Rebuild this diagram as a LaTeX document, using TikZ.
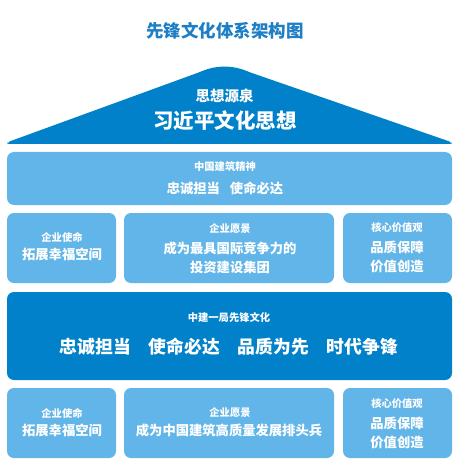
\documentclass[tikz,border=0pt]{standalone}
\usepackage{fontspec}
\setmainfont{Noto Sans CJK SC}
\definecolor{darkb}{HTML}{0081CA}
\definecolor{lightb}{HTML}{62B5E8}
\definecolor{titleb}{HTML}{1D7EC5}
\begin{document}
\begin{tikzpicture}[x=1pt,y=-1pt,
  lbox/.style={fill=lightb,rounded corners=7pt},
  dbox/.style={fill=darkb,rounded corners=7pt},
  wt/.style={text=white,font=\bfseries,inner sep=0pt,align=center},
  fs/.style={font=\fontsize{#1}{#1}\selectfont\bfseries}]
\useasboundingbox (0,0) rectangle (463,473);
% title
\node[inner sep=0pt,text=titleb,fs=17.5] (title) at (225,31) {先锋文化体系架构图};
% roof
\fill[darkb,rounded corners=2pt] (7,144) -- (8,142) -- (200,72)
  .. controls (216,65) and (233,65) .. (249,72) -- (451,142) -- (452,144) -- cycle;
\node[wt,fs=14.5] (sx) at (224.5,96) {思想源泉};
\node[wt,fs=20.5] (xjp) at (225,121) {习近平文化思想};
% row 1
\path[lbox] (7,152) rectangle (452,205);
\node[wt,fs=10.3] (r1a) at (225,167) {中国建筑精神};
\node[wt,fs=13.3] (r1b) at (225,188) {忠诚担当\hspace{0.75em}使命必达};
% row 2
\path[lbox] (7,213) rectangle (116,283);
\path[lbox] (124,213) rectangle (334,283);
\path[lbox] (343,213) rectangle (452,283);
\node[wt,fs=10.3] (l2a) at (62,237) {企业使命};
\node[wt,fs=13.3] (l2b) at (62,254) {拓展幸福空间};
\node[wt,fs=10.3] (m2a) at (230,229) {企业愿景};
\node[wt,fs=13.3] (m2b) at (230,248) {成为最具国际竞争力的};
\node[wt,fs=13.3] (m2c) at (230,267) {投资建设集团};
\node[wt,fs=10.3] (r2a) at (397,228) {核心价值观};
\node[wt,fs=13.3] (r2b) at (397,247) {品质保障};
\node[wt,fs=13.3] (r2c) at (397,266) {价值创造};
% row 3
\path[dbox] (7,292) rectangle (452,380);
\node[wt,fs=10.3] (r3a) at (229,318) {中建一局先锋文化};
\node[wt,fs=17.8] (r3b) at (229,347) {忠诚担当\hspace{1em}使命必达\hspace{1em}品质为先\hspace{1em}时代争锋};
% row 4
\path[lbox] (7,388) rectangle (116,458);
\path[lbox] (124,388) rectangle (334,458);
\path[lbox] (343,388) rectangle (452,458);
\node[wt,fs=10.3] (l4a) at (62,413) {企业使命};
\node[wt,fs=13.3] (l4b) at (62,430) {拓展幸福空间};
\node[wt,fs=10.3] (m4a) at (230,413) {企业愿景};
\node[wt,fs=13.3] (m4b) at (229,430) {成为中国建筑高质量发展排头兵};
\node[wt,fs=10.3] (r4a) at (397,404) {核心价值观};
\node[wt,fs=13.3] (r4b) at (397,423) {品质保障};
\node[wt,fs=13.3] (r4c) at (397,442) {价值创造};
\end{tikzpicture}
\end{document}
